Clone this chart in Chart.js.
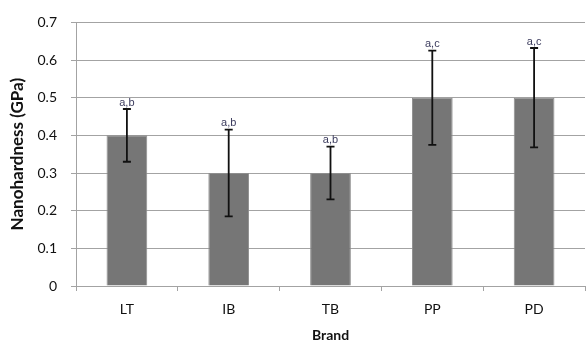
<!DOCTYPE html>
<html>
<head>
<meta charset="utf-8">
<script src="https://cdn.jsdelivr.net/npm/chart.js@4/dist/chart.umd.min.js"></script>
<style>
  html, body { margin: 0; padding: 0; background: #ffffff; }
  #wrap { width: 588px; height: 345px; position: relative; }
</style>
</head>
<body>
<div id="wrap"><canvas id="chart"></canvas></div>
<script>
// Mean nanohardness per brand, with standard deviation and significance letters
const brands = ['LT', 'IB', 'TB', 'PP', 'PD'];
const hardness = [0.4, 0.3, 0.3, 0.5, 0.5];
const stdDev = [0.07, 0.115, 0.07, 0.125, 0.132];
const groupLetters = ['a,b', 'a,b', 'a,b', 'a,c', 'a,c'];
const yTickLabels = ['0', '0.1', '0.2', '0.3', '0.4', '0.5', '0.6', '0.7'];

const FONT = 'Lato, "Open Sans", "Liberation Sans", sans-serif';
const GRID = '#a3a3a3';

// Draws the ± error bars and the letter labels above each bar
const errorBars = {
  id: 'errorBars',
  afterDatasetsDraw(chart) {
    const ctx = chart.ctx;
    const x = chart.scales.x, y = chart.scales.y;
    ctx.save();
    hardness.forEach((v, i) => {
      const cx = x.getPixelForValue(i);
      const top = y.getPixelForValue(v + stdDev[i]);
      const bot = y.getPixelForValue(v - stdDev[i]);
      const cap = 4;
      ctx.strokeStyle = '#111111';
      ctx.lineWidth = 1.8;
      ctx.beginPath();
      ctx.moveTo(cx, top); ctx.lineTo(cx, bot);
      ctx.moveTo(cx - cap, top); ctx.lineTo(cx + cap, top);
      ctx.moveTo(cx - cap, bot); ctx.lineTo(cx + cap, bot);
      ctx.stroke();
      ctx.fillStyle = '#3c3c5e';
      ctx.font = '11px "Liberation Sans", Arial, sans-serif';
      ctx.textAlign = 'center';
      ctx.textBaseline = 'bottom';
      ctx.fillText(groupLetters[i], cx, top - 1);
    });
    ctx.restore();
  }
};

new Chart(document.getElementById('chart'), {
  type: 'bar',
  data: {
    labels: brands,
    datasets: [{
      data: hardness,
      backgroundColor: '#767676',
      borderColor: '#8e8e8e',
      borderWidth: 1,
      categoryPercentage: 1.0,
      barPercentage: 0.4
    }]
  },
  options: {
    responsive: true,
    maintainAspectRatio: false,
    animation: false,
    events: [],
    layout: { padding: { top: 15, right: 3, left: 0, bottom: 0 } },
    plugins: { legend: { display: false }, tooltip: { enabled: false } },
    scales: {
      x: {
        offset: true,
        grid: {
          offset: true,
          drawOnChartArea: false,
          drawTicks: true,
          tickLength: 5,
          color: GRID
        },
        border: { color: GRID, width: 1 },
        ticks: {
          color: '#111111',
          padding: 10,
          font: { family: FONT, size: 14 }
        },
        title: {
          display: true,
          text: 'Brand',
          color: '#111111',
          font: { family: FONT, size: 14, weight: 'bold' },
          padding: { top: 0, bottom: 1 }
        },
        afterFit(scale) { scale.height = 59; }
      },
      y: {
        min: 0,
        max: 0.7,
        grid: { color: GRID, tickLength: 5, lineWidth: 1 },
        border: { color: GRID, width: 1 },
        ticks: {
          stepSize: 0.1,
          color: '#111111',
          padding: 14,
          font: { family: FONT, size: 14 },
          callback: (val, idx) => yTickLabels[idx]
        },
        title: {
          display: true,
          text: 'Nanohardness (GPa)',
          color: '#111111',
          font: { family: FONT, size: 17, weight: 'bold' },
          padding: { top: 7, bottom: 0 }
        },
        afterFit(scale) { scale.width = 76; }
      }
    }
  },
  plugins: [errorBars]
});
</script>
</body>
</html>
